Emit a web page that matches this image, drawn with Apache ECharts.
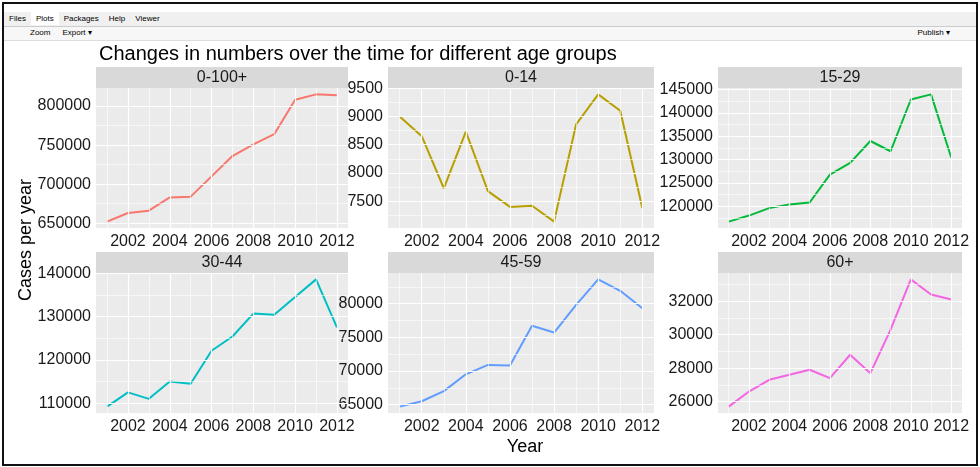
<!DOCTYPE html>
<html>
<head>
<meta charset="utf-8">
<script src="https://cdn.jsdelivr.net/npm/echarts@6/dist/echarts.min.js"></script>
<style>
  body { margin: 0; background: #fff; font-family: "Liberation Sans", Arial, sans-serif; }
  #frame { position: absolute; left: 2px; top: 2px; width: 972px; height: 460px; border: 2px solid #111; }
  #tabs { position: absolute; left: 0; top: 8px; width: 100%; height: 14px; background: #f0f0f0; border-bottom: 1px solid #ccc; font-size: 8px; }
  #tabs span { display: inline-block; padding: 2px 5px; }
  #tools { position: absolute; left: 0; top: 23px; width: 100%; height: 13px; background: #f7f7f7; border-bottom: 1px solid #ddd; font-size: 8px; }
  #tools span { display: inline-block; padding: 1px 6px; }
  #main { position: absolute; left: 0; top: 0; width: 980px; height: 467px; }
</style>
</head>
<body>
<div id="main"></div>
<div id="frame">
  <div id="tabs"><span>Files</span><span style="background:#fff">Plots</span><span>Packages</span><span>Help</span><span>Viewer</span></div>
  <div id="tools"><span style="margin-left:20px">Zoom</span><span>Export ▾</span><span style="float:right;margin-right:20px">Publish ▾</span></div>
</div>
<script>
const years = [2001, 2002, 2003, 2004, 2005, 2006, 2007, 2008, 2009, 2010, 2011, 2012];
const groups = ['0-100+', '0-14', '15-29', '30-44', '45-59', '60+'];
const all = [652000, 663000, 666000, 683000, 684000, 710000, 736000, 751000, 764000, 808000, 815000, 814000];
const age0_14 = [9000, 8650, 7730, 8730, 7680, 7400, 7420, 7140, 8860, 9390, 9100, 7380];
const age15_29 = [116700, 118000, 119600, 120400, 120800, 126800, 129300, 134000, 131800, 142900, 144000, 130400];
const age30_44 = [109200, 112500, 111000, 115000, 114500, 122100, 125400, 130700, 130400, 134500, 138600, 127500];
const age45_59 = [64700, 65500, 67000, 69500, 70900, 70800, 76700, 75700, 79800, 83600, 81900, 79300];
const age60 = [25700, 26600, 27300, 27600, 27900, 27400, 28800, 27700, 30300, 33300, 32400, 32100];
const seriesData = [all, age0_14, age15_29, age30_44, age45_59, age60];
const yTicks = [
  [650000, 700000, 750000, 800000],
  [7500, 8000, 8500, 9000, 9500],
  [120000, 125000, 130000, 135000, 140000, 145000],
  [110000, 120000, 130000, 140000],
  [65000, 70000, 75000, 80000],
  [26000, 28000, 30000, 32000]
];
const xTicks = [2002, 2004, 2006, 2008, 2010, 2012];
const colors = ['#F8766D', '#B79F00', '#00BA38', '#00BFC4', '#619CFF', '#F564E3'];

const cols = [[96, 348], [388, 654], [718, 962]];
const rows = [[88, 228], [273, 413]];
const stripH = 21;
const xMin = 2000.47, xMax = 2012.53;

// major + minor grid values (minor halfway between majors)
function withMinor(ticks, lo, hi) {
  const step = ticks[1] - ticks[0];
  const out = [];
  for (let v = ticks[0] - step * 1.5; v <= hi; v += step / 2) if (v >= lo) out.push({ v: v, major: ticks.includes(v) });
  return out;
}

const grids = [], xAxes = [], yAxes = [], series = [], graphics = [];
const plain = v => String(Math.round(v));
groups.forEach((g, i) => {
  const c = cols[i % 3], r = rows[Math.floor(i / 3)];
  grids.push({ left: c[0], top: r[0], width: c[1] - c[0], height: r[1] - r[0], show: true, backgroundColor: '#EBEBEB', borderWidth: 0 });
  xAxes.push({
    type: 'value', gridIndex: i, min: xMin, max: xMax,
    axisLine: { show: false }, axisTick: { show: false }, splitLine: { show: false },
    axisLabel: { customValues: xTicks, formatter: plain, color: '#1A1A1A', fontSize: 16, margin: 6, fontFamily: 'Liberation Sans' }
  });
  const d = seriesData[i];
  const lo = Math.min(...d), hi = Math.max(...d), pad = (hi - lo) * 0.05;
  const ymin = lo - pad, ymax = hi + pad;
  yAxes.push({
    type: 'value', gridIndex: i, min: ymin, max: ymax,
    axisLine: { show: false }, axisTick: { show: false }, splitLine: { show: false },
    axisLabel: { customValues: yTicks[i], formatter: plain, color: '#1A1A1A', fontSize: 16, margin: 5, fontFamily: 'Liberation Sans' }
  });
  const lines = [];
  years.forEach(y => lines.push({ xAxis: y, lineStyle: { width: y % 2 === 0 ? 1.2 : 0.6 } }));
  withMinor(yTicks[i], ymin, ymax).forEach(t => lines.push({ yAxis: t.v, lineStyle: { width: t.major ? 1.2 : 0.6 } }));
  series.push({
    type: 'line', xAxisIndex: i, yAxisIndex: i, data: [], z: 1, silent: true,
    markLine: { silent: true, symbol: 'none', label: { show: false }, animation: false,
      lineStyle: { color: '#fff', type: 'solid' }, data: lines }
  });
  series.push({
    type: 'line', xAxisIndex: i, yAxisIndex: i, showSymbol: false, z: 3,
    data: years.map((y, k) => [y, d[k]]),
    lineStyle: { color: colors[i], width: 2 }, itemStyle: { color: colors[i] }
  });
  graphics.push({ type: 'rect', shape: { x: c[0], y: r[0] - stripH, width: c[1] - c[0], height: stripH }, style: { fill: '#D9D9D9' } });
  graphics.push({ type: 'text', x: (c[0] + c[1]) / 2, y: r[0] - stripH / 2, style: { text: g, fill: '#1A1A1A', font: '16px "Liberation Sans"', align: 'center', verticalAlign: 'middle' } });
});

const chart = echarts.init(document.getElementById('main'));
chart.setOption({
  animation: false,
  title: { text: 'Changes in numbers over the time for different age groups', left: 94, top: 39, textStyle: { fontSize: 20, fontWeight: 'normal', color: '#000', fontFamily: 'Liberation Sans' } },
  grid: grids, xAxis: xAxes, yAxis: yAxes, series: series,
  graphic: graphics.concat([
    { type: 'text', x: 525, y: 447, style: { text: 'Year', fill: '#000', font: '18px "Liberation Sans"', align: 'center', verticalAlign: 'middle' } },
    { type: 'text', x: 26, y: 240, rotation: Math.PI / 2, style: { text: 'Cases per year', fill: '#000', font: '18px "Liberation Sans"', align: 'center', verticalAlign: 'middle' } }
  ])
});
</script>
</body>
</html>
